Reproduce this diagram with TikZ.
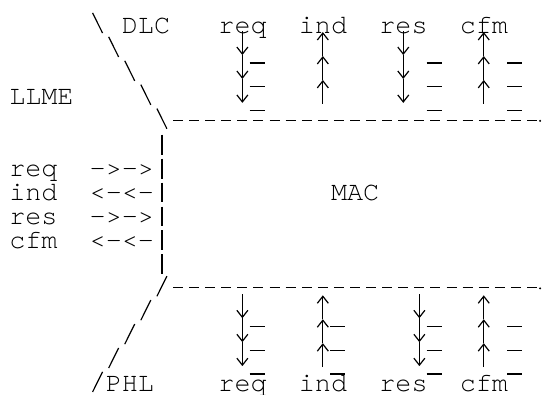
\documentclass[tikz,border=0pt]{standalone}
\usepackage{fontspec}
\newfontfamily\asciifont{TeX Gyre Cursor}
\usetikzlibrary{arrows.meta}
\tikzset{
  txt/.style={font={\asciifont\fontsize{26.8pt}{28pt}\selectfont}, inner sep=0pt, anchor=base west},
  stroke/.style={line width=1.2pt},
  flow/.style={stroke, -{Straight Barb[length=7pt, width=11pt]}},
  rule/.style={line width=1.4pt, dash pattern=on 10pt off 6.09pt}
}

\begin{document}
\begin{tikzpicture}[x=16.09pt, y=-23.93pt]
  \useasboundingbox (-0.5625,-1.379) rectangle (33.12,15.086);

  % layer names
  \node[txt] (dlc) at (7,0) {DLC};
  \node[txt] (llme) at (0,3) {LLME};
  \node[txt] (mac) at (20,7) {MAC};
  \node[txt] (phl) at (6,15) {PHL};

  % primitives above and below the MAC layer
  \foreach \n/\c in {req/13, ind/18, res/23, cfm/28} {
    \node[txt] (top\n) at (\c,0) {\n};
    \node[txt] (bot\n) at (\c,15) {\n};
  }

  % primitives from the management entity
  \node[txt] (lreq) at (0,6) {req};
  \node[txt] (lind) at (0,7) {ind};
  \node[txt] (lres) at (0,8) {res};
  \node[txt] (lcfm) at (0,9) {cfm};
  \node[txt] (lreqarr) at (5,6) {->->};
  \node[txt] (lindarr) at (5,7) {<-<-};
  \node[txt] (lresarr) at (5,8) {->->};
  \node[txt] (lcfmarr) at (5,9) {<-<-};

  % slanted borders
  \foreach \k in {0,...,4} {
    \draw[stroke] ({5+\k+0.19},{\k-0.84}) -- ({5+\k+0.81},\k);
    \draw[stroke] ({9-\k+0.19},{11+\k}) -- ({9-\k+0.81},{11+\k-0.84});
  }
  \foreach \r in {5,...,10}
    \draw[stroke] (9.5,{\r-0.75}) -- (9.5,{\r+0.08});

  % layer boundaries
  \draw[rule] (10.19,3.645) -- (32.81,3.645);
  \draw[rule] (10.19,10.645) -- (32.81,10.645);
  \fill (33.0,3.67) circle (1.1pt);
  \fill (33.0,10.67) circle (1.1pt);

  % downward primitives
  \foreach \c/\r in {14/0, 24/0, 14/11, 25/11}
    \foreach \k in {1,2,3}
      \draw[flow] ({\c+0.5},{\r+\k-1.08}) -- ({\c+0.5},{\r+\k-0.08});
  % upward primitives
  \foreach \c/\r in {19/0, 29/0, 19/11, 29/11}
    \foreach \k in {0,1,2}
      \draw[flow] ({\c+0.5},{\r+\k+0.96}) -- ({\c+0.5},{\r+\k-0.04});

  % underscores beside the arrows
  \foreach \c in {15,26,31}
    \foreach \r in {1,2,3}
      \draw[stroke] ({\c-0.05},{\r+0.25}) -- ({\c+0.9},{\r+0.25});
  \foreach \c in {15,20,26,31}
    \foreach \r in {12,13,14}
      \draw[stroke] ({\c-0.05},{\r+0.25}) -- ({\c+0.9},{\r+0.25});
\end{tikzpicture}
\end{document}
